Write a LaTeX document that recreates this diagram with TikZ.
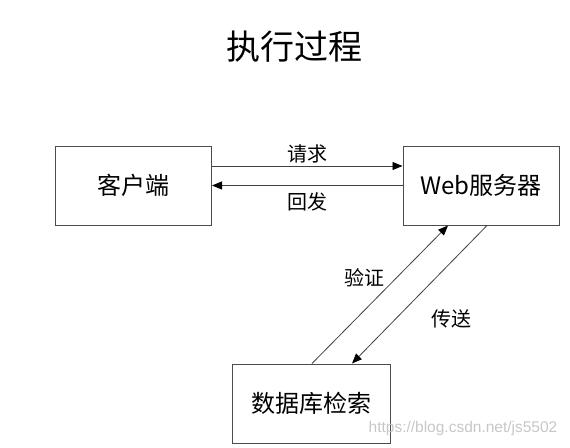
\documentclass[tikz,border=0pt]{standalone}
\usepackage{fontspec}
\newfontfamily\cjk{Noto Sans CJK SC}
\setsansfont{Liberation Sans}
\usetikzlibrary{arrows.meta}
\begin{document}
\begin{tikzpicture}[x=1pt,y=-1pt,
						every node/.style = {font=\cjk},
						box/.style = {draw=black!70,line width=1pt,minimum width=156pt,minimum height=79pt,inner sep=0pt,font=\cjk\fontsize{24}{28}\selectfont},
						lbl/.style = {font=\cjk\fontsize{20}{24}\selectfont},
						flow/.style = {draw=black!75,line width=0.8pt,-{Triangle[length=10pt,width=8pt,color=black]}}]

					\def\up{19.5pt}

					\useasboundingbox (0,0) rectangle (570,447);

					\node[font=\cjk\fontsize{34}{40}\selectfont] (title) at (294,47) {执行过程};

					\node[box] (client) at (133.5,185.5) {客户端};
					\node[box] (web) at (481,185.5) {Web服务器};
					\node[box,minimum width=158pt] (db) at (311,403.5) {数据库检索};

					\draw[flow] ([yshift=\up]client.east) -- ([yshift=\up]web.west)node[lbl,midway,above=-1pt](req){请求};
					\draw[flow] (web.west) -- (client.east)node[lbl,midway,below=3pt](ret){回发};
					\draw[flow] ([xshift=1pt]db.north) -- ([xshift=-33pt]web.south)node[lbl,pos=0.62,left=8pt](chk){验证};
					\draw[flow] ([xshift=6pt]web.south) -- ([xshift=41pt]db.north)node[lbl,pos=0.68,right=33pt](snd){传送};

					\node[font=\sffamily\fontsize{15.5}{18}\selectfont,text=black!22] (mark) at (463,428) {https://blog.csdn.net/js5502};

				\end{tikzpicture}
\end{document}
